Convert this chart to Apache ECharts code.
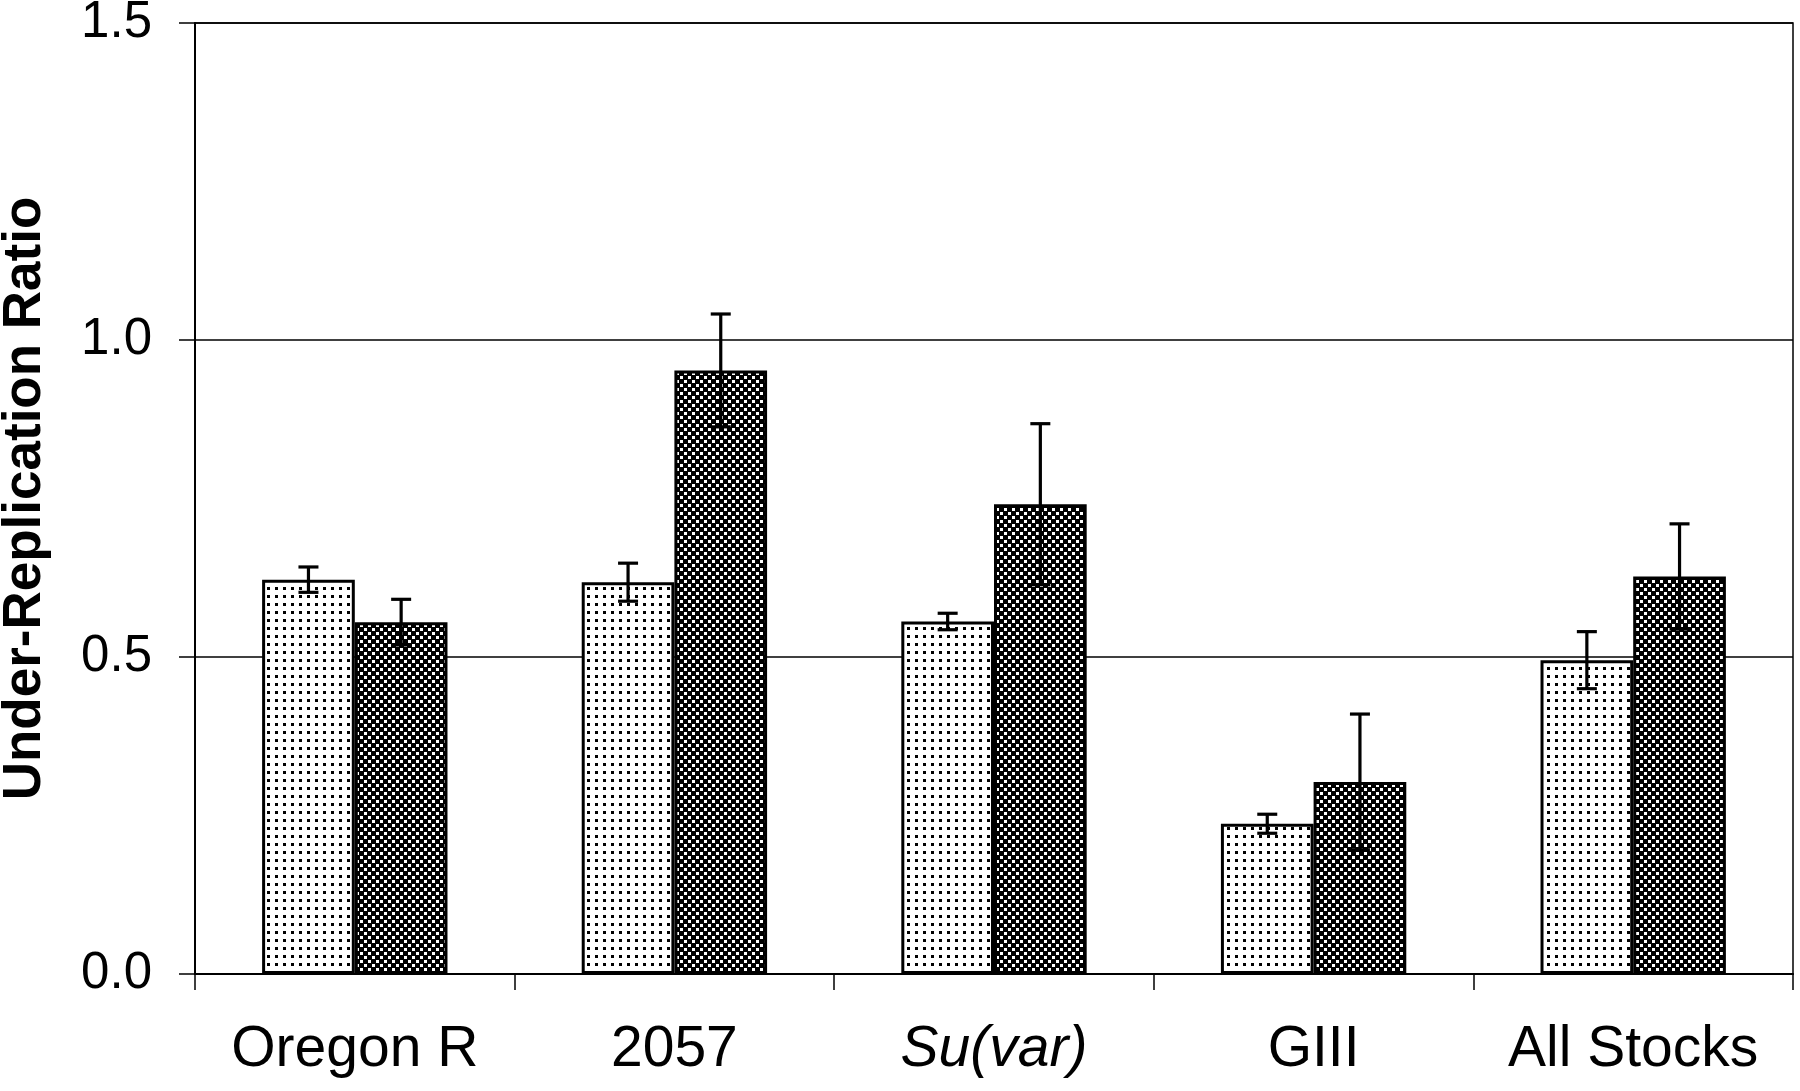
<!DOCTYPE html>
<html>
<head>
<meta charset="utf-8">
<script src="https://cdn.jsdelivr.net/npm/echarts@6/dist/echarts.min.js"></script>
<style>
  html, body { margin: 0; padding: 0; background: #fff; }
  #chart { width: 1800px; height: 1091px; }
</style>
</head>
<body>
<div id="chart"></div>
<script>
// stocks on the x axis
var stocks = ['Oregon R', '2057', 'Su(var)', 'GIII', 'All Stocks'];
// light (dotted) bars and their error
var lightVals = [0.622, 0.618, 0.556, 0.237, 0.495];
var lightErr  = [0.020, 0.030, 0.013, 0.015, 0.045];
// dark (checkered) bars and their error
var darkVals  = [0.555, 0.952, 0.741, 0.303, 0.627];
var darkErr   = [0.036, 0.089, 0.127, 0.107, 0.083];
var yTicks = [0, 0.5, 1.0, 1.5];

var GAP = 0.42; // barCategoryGap

// fill patterns
function makeTile(w, h, bg, fg, dots) {
  var c = document.createElement('canvas');
  c.width = w; c.height = h;
  var ctx = c.getContext('2d');
  ctx.fillStyle = bg;
  ctx.fillRect(0, 0, w, h);
  ctx.fillStyle = fg;
  dots.forEach(function (d) { ctx.fillRect(d[0], d[1], d[2], d[2]); });
  return c;
}
var lightTile = makeTile(8, 8, '#fff', '#000', [[3, 3, 3]]);
var darkTile = makeTile(8, 8, '#000', '#fff', [[0, 0, 3], [4, 4, 3]]);

var errData = [];
for (var i = 0; i < stocks.length; i++) {
  errData.push([i, lightVals[i], lightErr[i], 0]);
  errData.push([i, darkVals[i], darkErr[i], 1]);
}

var font = '"Liberation Sans", Arial, Helvetica, sans-serif';

var myChart = echarts.init(document.getElementById('chart'));
var option = {
  backgroundColor: '#fff',
  animation: false,
  grid: {
    left: 195, right: 7, top: 23, bottom: 117,
    outerBoundsMode: 'none',
    containLabel: false,
    show: true, borderColor: '#000', borderWidth: 1.5
  },
  xAxis: {
    type: 'category',
    data: stocks,
    boundaryGap: true,
    axisLine: { lineStyle: { color: '#000', width: 2 } },
    axisTick: { show: true, length: 16, interval: 0, lineStyle: { color: '#000', width: 1.5 } },
    axisLabel: {
      margin: 48,
      color: '#000',
      fontFamily: font,
      fontSize: 57,
      interval: 0,
      formatter: function (v) {
        return v === 'Su(var)' ? '{i|' + v + '}' : v;
      },
      rich: {
        i: { fontStyle: 'italic', fontFamily: font, fontSize: 57, color: '#000' }
      }
    }
  },
  yAxis: {
    type: 'value',
    min: yTicks[0],
    max: yTicks[yTicks.length - 1],
    interval: 0.5,
    name: 'Under-Replication Ratio',
    nameLocation: 'middle',
    nameGap: 143,
    nameTextStyle: { color: '#000', fontFamily: font, fontSize: 53, fontWeight: 'bold' },
    axisLine: { show: true, lineStyle: { color: '#000', width: 2 } },
    axisTick: { show: true, length: 16, lineStyle: { color: '#000', width: 1.5 } },
    axisLabel: {
      margin: 43,
      color: '#000',
      fontFamily: font,
      fontSize: 51,
      formatter: function (v) { return v.toFixed(1); }
    },
    splitLine: { show: true, lineStyle: { color: '#000', width: 1.5 } }
  },
  series: [
    {
      type: 'bar',
      data: lightVals,
      barGap: '0%',
      barCategoryGap: (GAP * 100) + '%',
      itemStyle: {
        color: { image: lightTile, repeat: 'repeat' },
        borderColor: '#000',
        borderWidth: 3
      }
    },
    {
      type: 'bar',
      data: darkVals,
      barGap: '0%',
      barCategoryGap: (GAP * 100) + '%',
      itemStyle: {
        color: { image: darkTile, repeat: 'repeat' },
        borderColor: '#000',
        borderWidth: 3
      }
    },
    {
      type: 'custom',
      data: errData,
      z: 10,
      renderItem: function (params, api) {
        var idx = api.value(0), v = api.value(1), e = api.value(2), s = api.value(3);
        var barW = api.size([1, 0])[0] * (1 - GAP) / 2;
        var hi = api.coord([idx, v + e]);
        var lo = api.coord([idx, v - e]);
        var x = hi[0] + (s === 0 ? -barW / 2 : barW / 2);
        var cap = 10;
        var st = { stroke: '#000', lineWidth: 3.2 };
        return {
          type: 'group',
          children: [
            { type: 'line', shape: { x1: x, y1: hi[1], x2: x, y2: lo[1] }, style: st },
            { type: 'line', shape: { x1: x - cap, y1: hi[1], x2: x + cap, y2: hi[1] }, style: st },
            { type: 'line', shape: { x1: x - cap, y1: lo[1], x2: x + cap, y2: lo[1] }, style: st }
          ]
        };
      }
    }
  ]
};
myChart.setOption(option);
</script>
</body>
</html>
